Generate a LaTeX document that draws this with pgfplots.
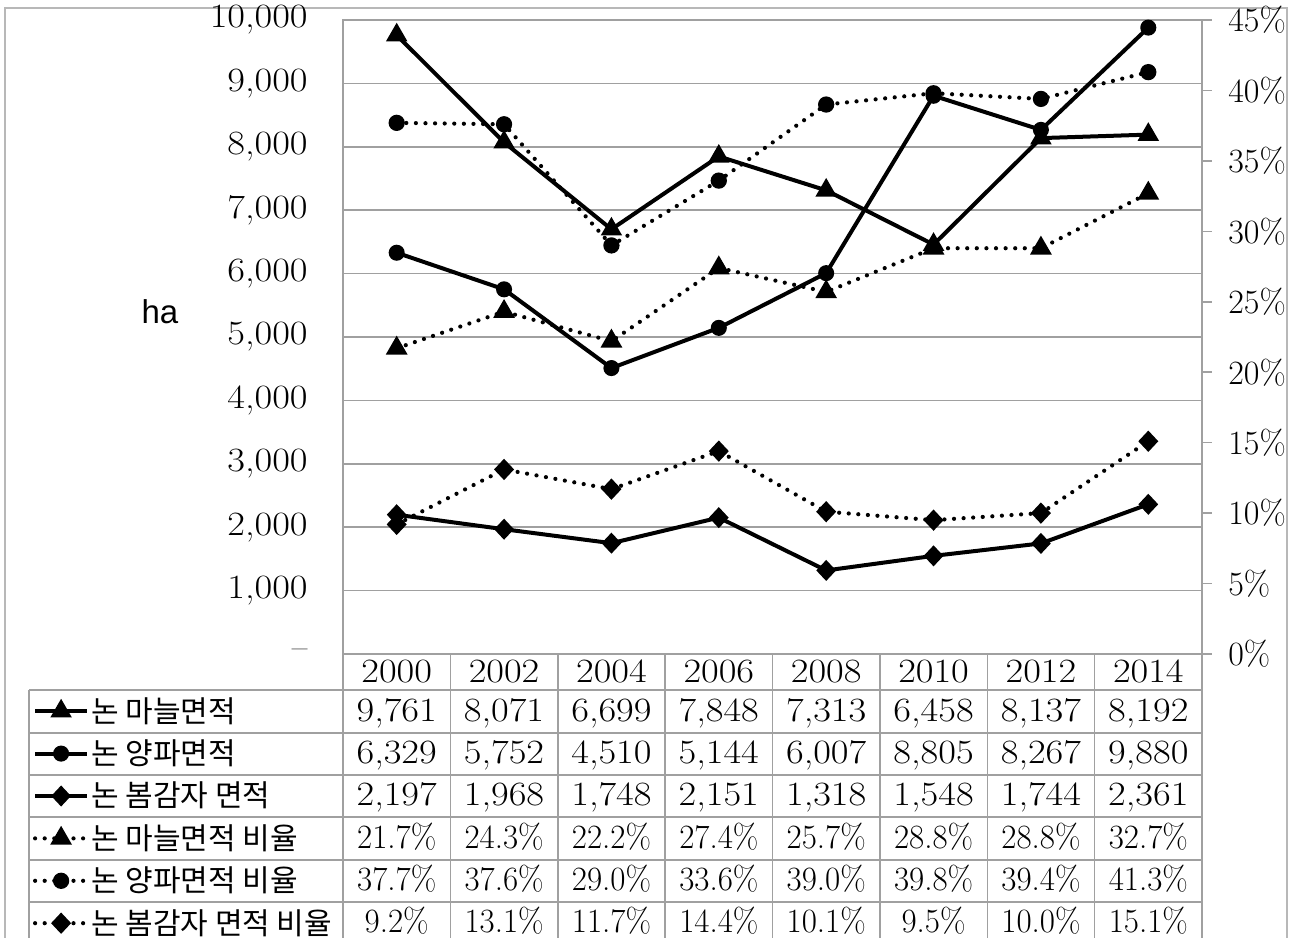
\documentclass[border=0pt]{standalone}
\usepackage{pgfplots}
\pgfplotsset{compat=1.18}
\usepackage{fontspec}
\newfontfamily\kr{Noto Sans CJK KR}
\newfontfamily\hafont{Liberation Sans}
\definecolor{gridgray}{HTML}{A0A0A0}
\definecolor{framegray}{HTML}{B8B8B8}
\newcommand\numfont{\fontsize{17}{18}\selectfont}
\newcommand\sx[1]{\scalebox{1.13}[1]{#1}}
\newcommand\px[1]{\scalebox{0.97}[1]{#1}}
\newcommand\trow[9]{%
  \node[anchor=base] at (396.69,#1) {#2};
  \node[anchor=base] at (504.06,#1) {#3};
  \node[anchor=base] at (611.44,#1) {#4};
  \node[anchor=base] at (718.81,#1) {#5};
  \node[anchor=base] at (826.19,#1) {#6};
  \node[anchor=base] at (933.56,#1) {#7};
  \node[anchor=base] at (1040.94,#1) {#8};
  \node[anchor=base] at (1148.31,#1) {#9};}

\pgfplotstableread{
x garlic onion potato rgarlic ronion rpotato
0 9761 6329 2197 21.7 37.7 9.2
1 8071 5752 1968 24.3 37.6 13.1
2 6699 4510 1748 22.2 29.0 11.7
3 7848 5144 2151 27.4 33.6 14.4
4 7313 6007 1318 25.7 39.0 10.1
5 6458 8805 1548 28.8 39.8 9.5
6 8137 8267 1744 28.8 39.4 10.0
7 8192 9880 2361 32.7 41.3 15.1
}\datatable

\begin{document}
\begin{tikzpicture}
\begin{scope}[x=0.5pt,y=-0.5pt]
\path (0,0) rectangle (1298,938);
\draw[framegray, line width=0.75pt] (5,938) -- (5,8) -- (1287,8) -- (1287,938);
\node[font=\hafont\fontsize{16.5}{18}\selectfont] at (160,312) {ha};
\end{scope}

\pgfplotsset{
  solidser/.style={black, line width=2pt, mark options={solid, fill=black}},
  dotser/.style={black, line width=2.1pt, dash pattern=on 0pt off 4.8pt, line cap=round, mark options={solid, fill=black}},
  trimark/.style={mark=triangle*, mark size=4.2pt},
  circmark/.style={mark=*, mark size=3pt},
  diamark/.style={mark=diamond*, mark size=3.8pt},
}

\begin{axis}[
  at={(171.5pt,-327pt)}, anchor=south west,
  scale only axis, width=429.5pt, height=317pt,
  xmin=-0.5, xmax=7.5, ymin=0, ymax=10000,
  scaled y ticks=false,
  xtick=\empty,
  ytick={0,1000,2000,3000,4000,5000,6000,7000,8000,9000,10000},
  yticklabels={--,\sx{1,000},\sx{2,000},\sx{3,000},\sx{4,000},\sx{5,000},\sx{6,000},\sx{7,000},\sx{8,000},\sx{9,000},\sx{10,000}},
  ymajorgrids, major grid style={gridgray, line width=0.75pt},
  axis line style={gridgray, line width=0.75pt},
  major tick length=0pt,
  yticklabel style={font=\numfont, inner sep=0pt, xshift=-17.5pt},
  clip=false,
]
\addplot[solidser, trimark] table[x=x,y=garlic] {\datatable};
\addplot[solidser, circmark] table[x=x,y=onion] {\datatable};
\addplot[solidser, diamark, mark options={solid, fill=black, xscale=1.25}] table[x=x,y=potato] {\datatable};
\end{axis}

\begin{axis}[
  at={(171.5pt,-327pt)}, anchor=south west,
  scale only axis, width=429.5pt, height=317pt,
  xmin=-0.5, xmax=7.5, ymin=0, ymax=45,
  axis x line=none, axis y line*=right,
  ytick={0,5,...,45},
  /pgf/number format/assume math mode=true,
  yticklabel={\pgfmathprintnumber{\tick}\%},
  tick align=outside, major tick length=5pt,
  tick style={gridgray, line width=0.75pt},
  axis line style={gridgray, line width=0.75pt},
  yticklabel style={font=\numfont, inner sep=0pt, xshift=8pt, anchor=west},
  clip=false,
  legend cell align=left,
  legend style={at={(-0.36088,-0.056782)}, anchor=north west, draw=none, fill=none,
    inner sep=0pt, outer sep=0pt, row sep=0pt, column sep=1pt,
    font=\kr\fontsize{15}{16}\selectfont,
    nodes={inner sep=0pt, minimum height=21.2pt}},
  legend image code/.code={\draw[#1, mark repeat=2, mark phase=2] plot coordinates {(0pt,0pt) (13pt,0pt) (26pt,0pt)};},
]
\addlegendimage{solidser, trimark}
\addlegendentry{논 마늘면적}
\addlegendimage{solidser, circmark}
\addlegendentry{논 양파면적}
\addlegendimage{solidser, diamark, mark options={solid, fill=black, xscale=1.25}}
\addlegendentry{논 봄감자 면적}
\addplot[dotser, trimark] table[x=x,y=rgarlic] {\datatable};
\addlegendentry{논 마늘면적 비율}
\addplot[dotser, circmark] table[x=x,y=ronion] {\datatable};
\addlegendentry{논 양파면적 비율}
\addplot[dotser, diamark, mark options={solid, fill=black, xscale=1.25}] table[x=x,y=rpotato] {\datatable};
\addlegendentry{논 봄감자 면적 비율}
\end{axis}

\begin{scope}[x=0.5pt,y=-0.5pt]
\draw[gridgray, line width=0.75pt] (29,938) -- (29,690);
\foreach \k in {0,...,8} {\draw[gridgray, line width=0.75pt] ({343+107.375*\k},654) -- ({343+107.375*\k},938);}
\foreach \yy in {690,733,775,817,860,902} {\draw[gridgray, line width=0.75pt] (29,\yy) -- (1202,\yy);}
\begin{scope}[every node/.style={font=\numfont, inner sep=0pt}]
\trow{683}{\sx{2000}}{\sx{2002}}{\sx{2004}}{\sx{2006}}{\sx{2008}}{\sx{2010}}{\sx{2012}}{\sx{2014}}
\trow{721.5}{\sx{9,761}}{\sx{8,071}}{\sx{6,699}}{\sx{7,848}}{\sx{7,313}}{\sx{6,458}}{\sx{8,137}}{\sx{8,192}}
\trow{764}{\sx{6,329}}{\sx{5,752}}{\sx{4,510}}{\sx{5,144}}{\sx{6,007}}{\sx{8,805}}{\sx{8,267}}{\sx{9,880}}
\trow{806}{\sx{2,197}}{\sx{1,968}}{\sx{1,748}}{\sx{2,151}}{\sx{1,318}}{\sx{1,548}}{\sx{1,744}}{\sx{2,361}}
\trow{848.5}{\px{21.7\%}}{\px{24.3\%}}{\px{22.2\%}}{\px{27.4\%}}{\px{25.7\%}}{\px{28.8\%}}{\px{28.8\%}}{\px{32.7\%}}
\trow{891}{\px{37.7\%}}{\px{37.6\%}}{\px{29.0\%}}{\px{33.6\%}}{\px{39.0\%}}{\px{39.8\%}}{\px{39.4\%}}{\px{41.3\%}}
\trow{933}{\px{9.2\%}}{\px{13.1\%}}{\px{11.7\%}}{\px{14.4\%}}{\px{10.1\%}}{\px{9.5\%}}{\px{10.0\%}}{\px{15.1\%}}
\end{scope}
\end{scope}
\end{tikzpicture}
\end{document}
